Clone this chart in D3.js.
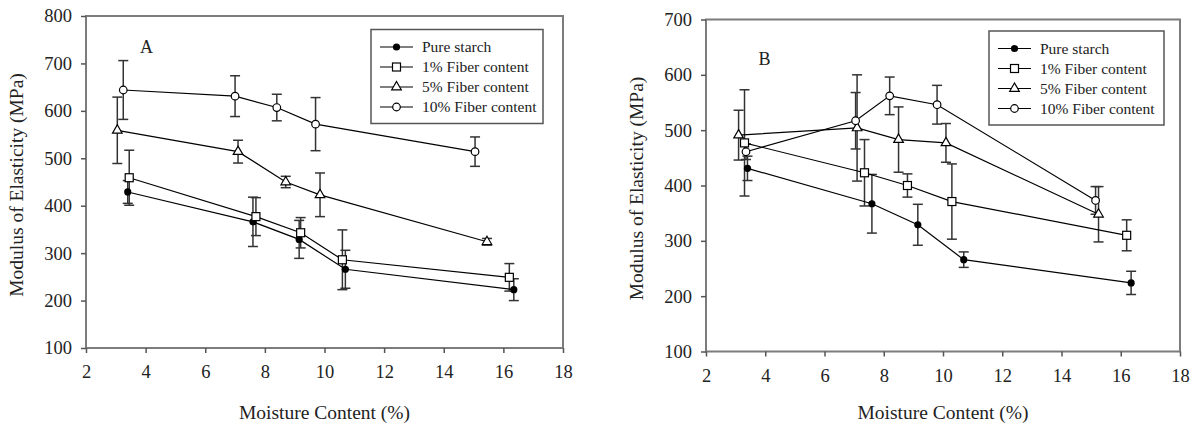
<!DOCTYPE html>
<html>
<head>
<meta charset="utf-8">
<script src="https://cdn.jsdelivr.net/npm/d3@7/dist/d3.min.js"></script>
<style>
  body { margin: 0; background: #fff; }
  svg { display: block; font-family: 'Liberation Serif', 'Times New Roman', serif; }
</style>
</head>
<body>
<svg id="chart" width="1198" height="430"></svg>
<script>
'use strict'

// series names (legend order) and marker kinds
const seriesNames = ['Pure starch', '1% Fiber content', '5% Fiber content', '10% Fiber content']
const markerKinds = ['dot', 'square', 'triangle', 'circle']
const xTicks = [2, 4, 6, 8, 10, 12, 14, 16, 18]

// panel A : [moisture %, modulus MPa, error]
const aPure = [[3.4, 429, 24], [7.6, 366, 52], [9.15, 329, 40], [10.7, 266, 40], [16.35, 223, 23]]
const aFiber1 = [[3.45, 459, 58], [7.7, 377, 40], [9.2, 343, 32], [10.6, 286, 63], [16.2, 249, 29]]
const aFiber5 = [[3.05, 559, 70], [7.1, 514, 24], [8.7, 450, 12], [9.85, 423, 46], [15.45, 324, 7]]
const aFiber10 = [[3.25, 644, 62], [7.0, 631, 43], [8.4, 607, 28], [9.7, 572, 56], [15.05, 514, 31]]
const aYTicks = [100, 200, 300, 400, 500, 600, 700, 800]

// panel B
const bPure = [[3.4, 431, 22], [7.6, 367, 53], [9.15, 329, 37], [10.7, 266, 14], [16.35, 224, 21]]
const bFiber1 = [[3.3, 477, 96], [7.35, 423, 60], [8.8, 400, 21], [10.3, 371, 68], [16.2, 310, 28]]
const bFiber5 = [[3.1, 491, 45], [7.1, 504, 96], [8.5, 483, 59], [10.1, 477, 35], [15.25, 348, 50]]
const bFiber10 = [[3.35, 461, 14], [7.05, 517, 51], [8.2, 562, 34], [9.8, 546, 35], [15.15, 373, 25]]
const bYTicks = [100, 200, 300, 400, 500, 600, 700]

const svg = d3.select('#chart')

function drawMarker (g, kind, x, y) {
  if (kind === 'dot') {
    g.append('circle').attr('cx', x).attr('cy', y).attr('r', 3.6).attr('fill', '#000')
  } else if (kind === 'square') {
    g.append('rect').attr('x', x - 4).attr('y', y - 4).attr('width', 8).attr('height', 8)
      .attr('fill', '#fff').attr('stroke', '#000').attr('stroke-width', 1.2)
  } else if (kind === 'triangle') {
    g.append('path').attr('d', d3.symbol().type(d3.symbolTriangle).size(40)())
      .attr('transform', `translate(${x},${y})`)
      .attr('fill', '#fff').attr('stroke', '#000').attr('stroke-width', 1.2)
  } else {
    g.append('circle').attr('cx', x).attr('cy', y).attr('r', 3.8)
      .attr('fill', '#fff').attr('stroke', '#000').attr('stroke-width', 1.2)
  }
}

function drawPanel (opts) {
  const { left, right, top, bottom, yMax, yTicks, series, label, labelPos, legend } = opts
  const x = d3.scaleLinear().domain([2, 18]).range([left, right])
  const y = d3.scaleLinear().domain([100, yMax]).range([bottom, top])
  const g = svg.append('g')

  // frame
  g.append('rect')
    .attr('x', left).attr('y', top)
    .attr('width', right - left).attr('height', bottom - top)
    .attr('fill', 'none').attr('stroke', '#7c7c7c').attr('stroke-width', 2)

  const yAxis = g.append('g')
    .attr('transform', `translate(${left},0)`)
    .call(d3.axisLeft(y).tickValues(yTicks).tickSize(5).tickPadding(9).tickFormat(d3.format('d')))
  const xAxis = g.append('g')
    .attr('transform', `translate(0,${bottom})`)
    .call(d3.axisBottom(x).tickValues(xTicks).tickSize(5).tickPadding(12).tickFormat(d3.format('d')))
  for (const ax of [yAxis, xAxis]) {
    ax.select('.domain').remove()
    ax.selectAll('.tick line').attr('stroke', '#555').attr('stroke-width', 1.5)
    ax.selectAll('.tick text')
      .attr('fill', '#222')
      .style('font-family', "'Liberation Serif', serif")
      .style('font-size', '18.5px')
  }

  // axis titles
  g.append('text')
    .attr('x', (left + right) / 2).attr('y', 419)
    .attr('text-anchor', 'middle')
    .style('font-size', '19.5px').attr('fill', '#222')
    .text('Moisture Content (%)')
  g.append('text')
    .attr('transform', `translate(${left - 63},${(top + bottom) / 2 + 3}) rotate(-90)`)
    .attr('text-anchor', 'middle')
    .style('font-size', '19.5px').attr('fill', '#222')
    .text('Modulus of Elasticity (MPa)')

  g.append('text')
    .attr('x', labelPos[0]).attr('y', labelPos[1])
    .attr('text-anchor', 'middle')
    .style('font-size', '18px').attr('fill', '#222')
    .text(label)

  const line = d3.line().x(d => x(d[0])).y(d => y(d[1]))

  // error bars
  series.forEach(s => {
    s.forEach(d => {
      const px = x(d[0])
      const y1 = y(d[1] + d[2])
      const y2 = y(d[1] - d[2])
      g.append('line').attr('x1', px).attr('x2', px).attr('y1', y1).attr('y2', y2)
        .attr('stroke', '#333').attr('stroke-width', 1.5)
      for (const yy of [y1, y2]) {
        g.append('line').attr('x1', px - 5).attr('x2', px + 5).attr('y1', yy).attr('y2', yy)
          .attr('stroke', '#333').attr('stroke-width', 1.5)
      }
    })
  })

  // lines
  series.forEach(s => {
    g.append('path').attr('d', line(s))
      .attr('fill', 'none').attr('stroke', '#000').attr('stroke-width', 1.2)
  })

  // markers
  series.forEach((s, i) => {
    s.forEach(d => drawMarker(g, markerKinds[i], x(d[0]), y(d[1])))
  })

  // legend
  const lg = g.append('g')
  lg.append('rect')
    .attr('x', legend.x).attr('y', legend.y)
    .attr('width', legend.w).attr('height', legend.h)
    .attr('fill', '#fff').attr('stroke', '#555').attr('stroke-width', 1.5)
  seriesNames.forEach((name, i) => {
    const ry = legend.y + 17.5 + i * 20
    const lx = legend.x + 9
    lg.append('line').attr('x1', lx).attr('x2', lx + 33).attr('y1', ry).attr('y2', ry)
      .attr('stroke', '#000').attr('stroke-width', 1.2)
    drawMarker(lg, markerKinds[i], lx + 16.5, ry)
    lg.append('text')
      .attr('x', lx + 42).attr('y', ry)
      .attr('dy', '0.34em')
      .style('font-size', '15.5px').attr('fill', '#222')
      .text(name)
  })
}

drawPanel({
  left: 86, right: 563, top: 16, bottom: 348,
  yMax: 800, yTicks: aYTicks,
  series: [aPure, aFiber1, aFiber5, aFiber10],
  label: 'A', labelPos: [146.5, 53],
  legend: { x: 371, y: 29.5, w: 172, h: 94 }
})

drawPanel({
  left: 706, right: 1180, top: 19.5, bottom: 351.5,
  yMax: 700, yTicks: bYTicks,
  series: [bPure, bFiber1, bFiber5, bFiber10],
  label: 'B', labelPos: [764.5, 65],
  legend: { x: 989, y: 31, w: 175, h: 94 }
})
</script>
</body>
</html>
